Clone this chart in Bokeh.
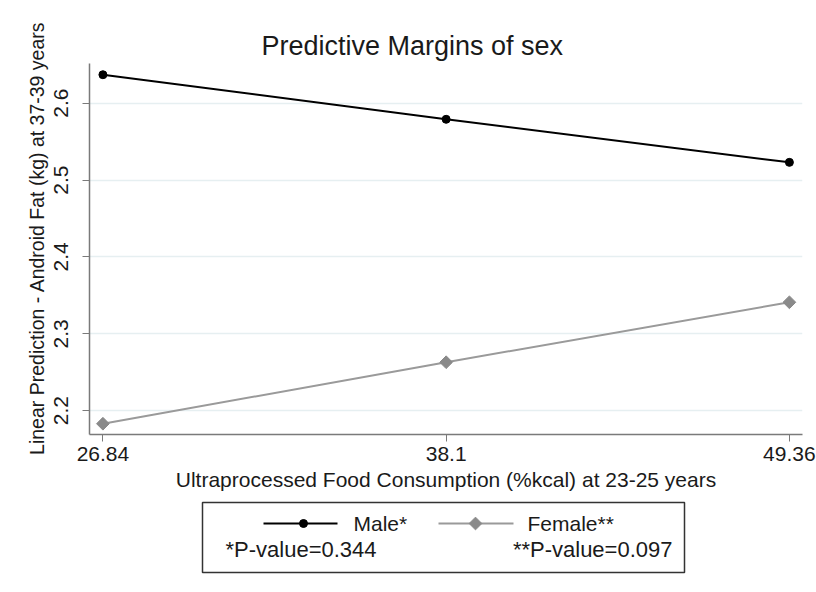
import math
from bokeh.plotting import figure
from bokeh.layouts import column
from bokeh.models import Range1d, FixedTicker
from bokeh.core.properties import value
from bokeh.embed import file_html
from bokeh.resources import INLINE

# ---- data ----
x_values = [26.84, 38.1, 49.36]
x_tick_labels = ["26.84", "38.1", "49.36"]
y_ticks = [2.2, 2.3, 2.4, 2.5, 2.6]
male = [2.637, 2.579, 2.523]
female = [2.183, 2.263, 2.341]
series_names = ["Male*", "Female**"]
p_value_labels = ["*P-value=0.344", "**P-value=0.097"]

FONT = "Liberation Sans"
TXT = "#1a1a1a"
AX = "#7a7a7a"
GRID = "#e6eff1"
MALE_C = "#000000"
FEM_LINE = "#9a9a9a"
FEM_MARK = "#8a8a8a"

p = figure(frame_width=713, frame_height=371,
           x_range=Range1d(26.40, 49.79), y_range=Range1d(2.169, 2.6516),
           output_backend="svg", toolbar_location=None,
           min_border_left=89, min_border_right=14,
           min_border_top=63, min_border_bottom=61)
p.outline_line_color = None
p.background_fill_color = "white"
p.border_fill_color = "white"

p.title.text = "Predictive Margins of sex"
p.title.text_font = FONT
p.title.text_font_size = "27px"
p.title.text_font_style = "normal"
p.title.text_color = TXT
p.title.align = "left"
p.title.offset = 172
p.title.standoff = 5

p.line(x_values, male, line_color=MALE_C, line_width=2)
p.scatter(x_values, male, marker="circle", size=8, fill_color=MALE_C, line_color=MALE_C)
p.line(x_values, female, line_color=FEM_LINE, line_width=2)
p.scatter(x_values, female, marker="square", angle=math.pi / 4, size=9,
          fill_color=FEM_MARK, line_color=FEM_MARK)

p.xaxis.ticker = FixedTicker(ticks=x_values)
p.xaxis.major_label_overrides = {v: s for v, s in zip(x_values, x_tick_labels)}
p.yaxis.ticker = FixedTicker(ticks=y_ticks)
p.yaxis.major_label_orientation = "vertical"
p.xaxis.axis_label = "Ultraprocessed Food Consumption (%kcal) at 23-25 years"
# leading non-breaking spaces nudge the long rotated label slightly upward, as in the original
p.yaxis.axis_label = "\u00a0" * 4 + "Linear Prediction - Android Fat (kg) at 37-39 years"

for ax in (p.xaxis[0], p.yaxis[0]):
    ax.axis_line_color = AX
    ax.axis_line_width = 1.5
    ax.major_tick_line_color = AX
    ax.major_tick_out = 7
    ax.major_tick_in = 0
    ax.minor_tick_line_color = None
    ax.major_label_text_font = FONT
    ax.major_label_text_font_size = "21px"
    ax.major_label_text_color = TXT
    ax.axis_label_text_font = FONT
    ax.axis_label_text_font_style = "normal"
    ax.axis_label_text_color = TXT
p.xaxis.axis_label_text_font_size = "21px"
p.yaxis.axis_label_text_font_size = "19.5px"
p.xaxis.major_label_standoff = 5
p.xaxis.axis_label_standoff = 4
p.yaxis.major_label_standoff = 14
p.yaxis.axis_label_standoff = 4

p.xgrid.grid_line_color = None
p.ygrid.grid_line_color = GRID
p.ygrid.grid_line_width = 1.5

# ---- legend panel (same horizontal frame as the plot, pixel-like ranges) ----
lg = figure(frame_width=713, frame_height=97,
            x_range=Range1d(0, 713), y_range=Range1d(0, 97),
            output_backend="svg", toolbar_location=None,
            min_border_left=89, min_border_right=14,
            min_border_top=0, min_border_bottom=0)
lg.axis.visible = False
lg.grid.visible = False
lg.outline_line_color = None
lg.background_fill_color = "white"
lg.border_fill_color = "white"

lg.quad(left=[113], right=[595], bottom=[20], top=[90],
        fill_color=None, line_color="#333333", line_width=1.5)

row1 = 69
row2 = 43
lg.line([174, 248], [row1, row1], line_color=MALE_C, line_width=2)
lg.scatter([214], [row1], marker="circle", size=8, fill_color=MALE_C, line_color=MALE_C)
lg.line([349, 424], [row1, row1], line_color=FEM_LINE, line_width=2)
lg.scatter([386], [row1], marker="square", angle=math.pi / 4, size=9,
           fill_color=FEM_MARK, line_color=FEM_MARK)
lg.text([264, 438], [row1, row1], text=series_names, text_font=value(FONT),
        text_font_size="21px", text_baseline="middle", text_align="left", text_color=TXT)
lg.text([136], [row2], text=[p_value_labels[0]], text_font=value(FONT),
        text_font_size="22px", text_baseline="middle", text_align="left", text_color=TXT)
lg.text([583], [row2], text=[p_value_labels[1]], text_font=value(FONT),
        text_font_size="22px", text_baseline="middle", text_align="right", text_color=TXT)

layout = column(p, lg, spacing=0)
open("out.html", "w").write(file_html(layout, INLINE))
